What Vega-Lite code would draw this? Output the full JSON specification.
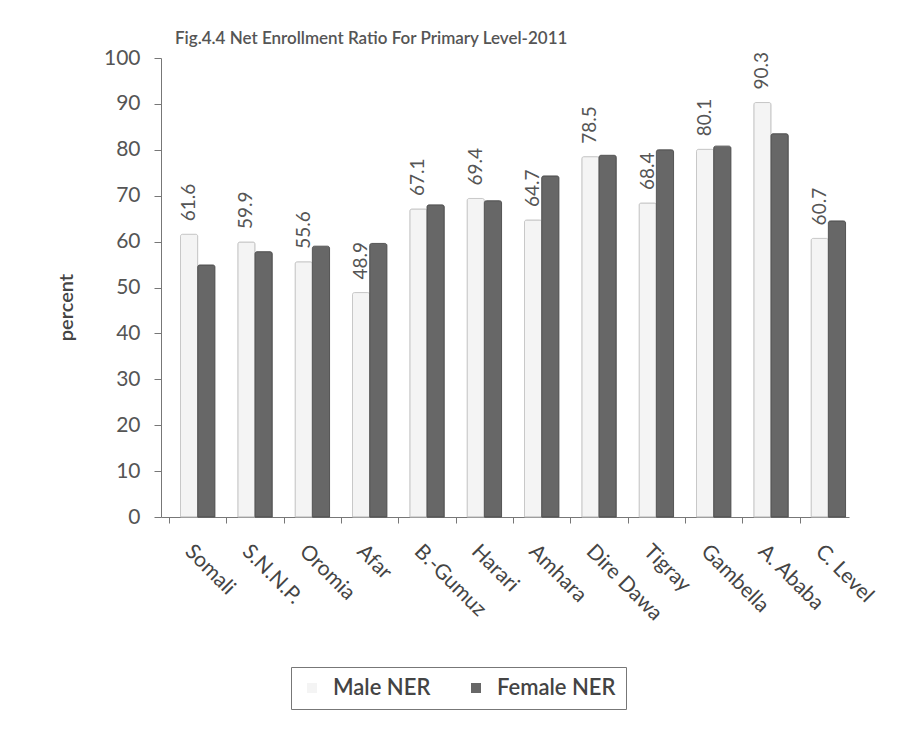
{
  "$schema": "https://vega.github.io/schema/vega-lite/v6.json",
  "autosize": "none",
  "width": 688,
  "height": 459,
  "padding": {"left": 161, "top": 58, "right": 54, "bottom": 222},
  "background": "white",
  "title": {
    "text": "Fig.4.4 Net Enrollment Ratio For Primary Level-2011",
    "anchor": "start",
    "frame": "group",
    "dx": 14,
    "offset": -1,
    "font": "Lato",
    "fontSize": 17,
    "fontWeight": 600,
    "color": "#555555"
  },
  "data": {
    "values": [
      {"region": "Somali", "sex": "Male NER", "value": 61.6},
      {"region": "Somali", "sex": "Female NER", "value": 54.9},
      {"region": "S.N.N.P.", "sex": "Male NER", "value": 59.9},
      {"region": "S.N.N.P.", "sex": "Female NER", "value": 57.8},
      {"region": "Oromia", "sex": "Male NER", "value": 55.6},
      {"region": "Oromia", "sex": "Female NER", "value": 59.0},
      {"region": "Afar", "sex": "Male NER", "value": 48.9},
      {"region": "Afar", "sex": "Female NER", "value": 59.6},
      {"region": "B.-Gumuz", "sex": "Male NER", "value": 67.1},
      {"region": "B.-Gumuz", "sex": "Female NER", "value": 68.0},
      {"region": "Harari", "sex": "Male NER", "value": 69.4},
      {"region": "Harari", "sex": "Female NER", "value": 68.9},
      {"region": "Amhara", "sex": "Male NER", "value": 64.7},
      {"region": "Amhara", "sex": "Female NER", "value": 74.3},
      {"region": "Dire Dawa", "sex": "Male NER", "value": 78.5},
      {"region": "Dire Dawa", "sex": "Female NER", "value": 78.8},
      {"region": "Tigray", "sex": "Male NER", "value": 68.4},
      {"region": "Tigray", "sex": "Female NER", "value": 80.0},
      {"region": "Gambella", "sex": "Male NER", "value": 80.1},
      {"region": "Gambella", "sex": "Female NER", "value": 80.8},
      {"region": "A. Ababa", "sex": "Male NER", "value": 90.3},
      {"region": "A. Ababa", "sex": "Female NER", "value": 83.5},
      {"region": "C. Level", "sex": "Male NER", "value": 60.7},
      {"region": "C. Level", "sex": "Female NER", "value": 64.5}
    ]
  },
  "encoding": {
    "x": {
      "field": "region",
      "type": "nominal",
      "sort": null,
      "scale": {"paddingInner": 0.4, "paddingOuter": 0.2, "align": 0.85},
      "axis": {
        "title": null,
        "labelAngle": 45,
        "labelAlign": "left",
        "labelBaseline": "middle",
        "labelFont": "Lato",
        "labelFontSize": 21,
        "labelColor": "#444444",
        "labelPadding": 25,
        "labelOffset": 18.7,
        "tickOffset": -28.7,
        "tickColor": "#777777",
        "tickSize": 6,
        "domainColor": "#777777"
      }
    },
    "xOffset": {
      "field": "sex",
      "type": "nominal",
      "sort": ["Male NER", "Female NER"],
      "scale": {"paddingInner": 0, "paddingOuter": 0}
    },
    "y": {
      "field": "value",
      "type": "quantitative",
      "scale": {"domain": [0, 100], "nice": false},
      "axis": {
        "title": "percent",
        "titleFont": "Lato",
        "titleFontSize": 20,
        "titleFontWeight": 600,
        "titleColor": "#444444",
        "titleX": -85,
        "titleY": 249,
        "titleAngle": 270,
        "titleAlign": "center",
        "titleBaseline": "bottom",
        "values": [0, 10, 20, 30, 40, 50, 60, 70, 80, 90, 100],
        "grid": false,
        "labelFont": "Lato",
        "labelFontSize": 21,
        "labelColor": "#555555",
        "labelPadding": 14,
        "tickColor": "#777777",
        "tickSize": 7,
        "domainColor": "#777777"
      }
    }
  },
  "layer": [
    {
      "mark": {"type": "bar", "strokeWidth": 1, "cornerRadiusTopLeft": 2, "cornerRadiusTopRight": 2},
      "encoding": {
        "color": {
          "field": "sex",
          "type": "nominal",
          "sort": ["Male NER", "Female NER"],
          "scale": {"domain": ["Male NER", "Female NER"], "range": ["#f4f4f4", "#676767"]},
          "legend": {
            "title": null,
            "orient": "none",
            "direction": "horizontal",
            "legendX": 130,
            "legendY": 609,
            "padding": 10,
            "strokeColor": "#777777",
            "symbolType": "square",
            "symbolSize": 100,
            "symbolStrokeWidth": 0,
            "labelFont": "Lato",
            "labelFontSize": 22,
            "labelFontWeight": 600,
            "labelColor": "#444444",
            "columnPadding": 34,
            "labelOffset": 10
          }
        },
        "stroke": {
          "field": "sex",
          "type": "nominal",
          "scale": {"domain": ["Male NER", "Female NER"], "range": ["#c8c8c8", "#555555"]},
          "legend": null
        }
      }
    },
    {
      "transform": [{"filter": "datum.sex === 'Male NER'"}],
      "mark": {
        "type": "text",
        "angle": 270,
        "align": "left",
        "baseline": "middle",
        "dx": 13,
        "font": "Lato",
        "fontSize": 19,
        "color": "#555555"
      },
      "encoding": {
        "text": {"field": "value", "type": "quantitative", "format": ".1f"}
      }
    }
  ],
  "config": {
    "view": {"stroke": null}
  }
}
